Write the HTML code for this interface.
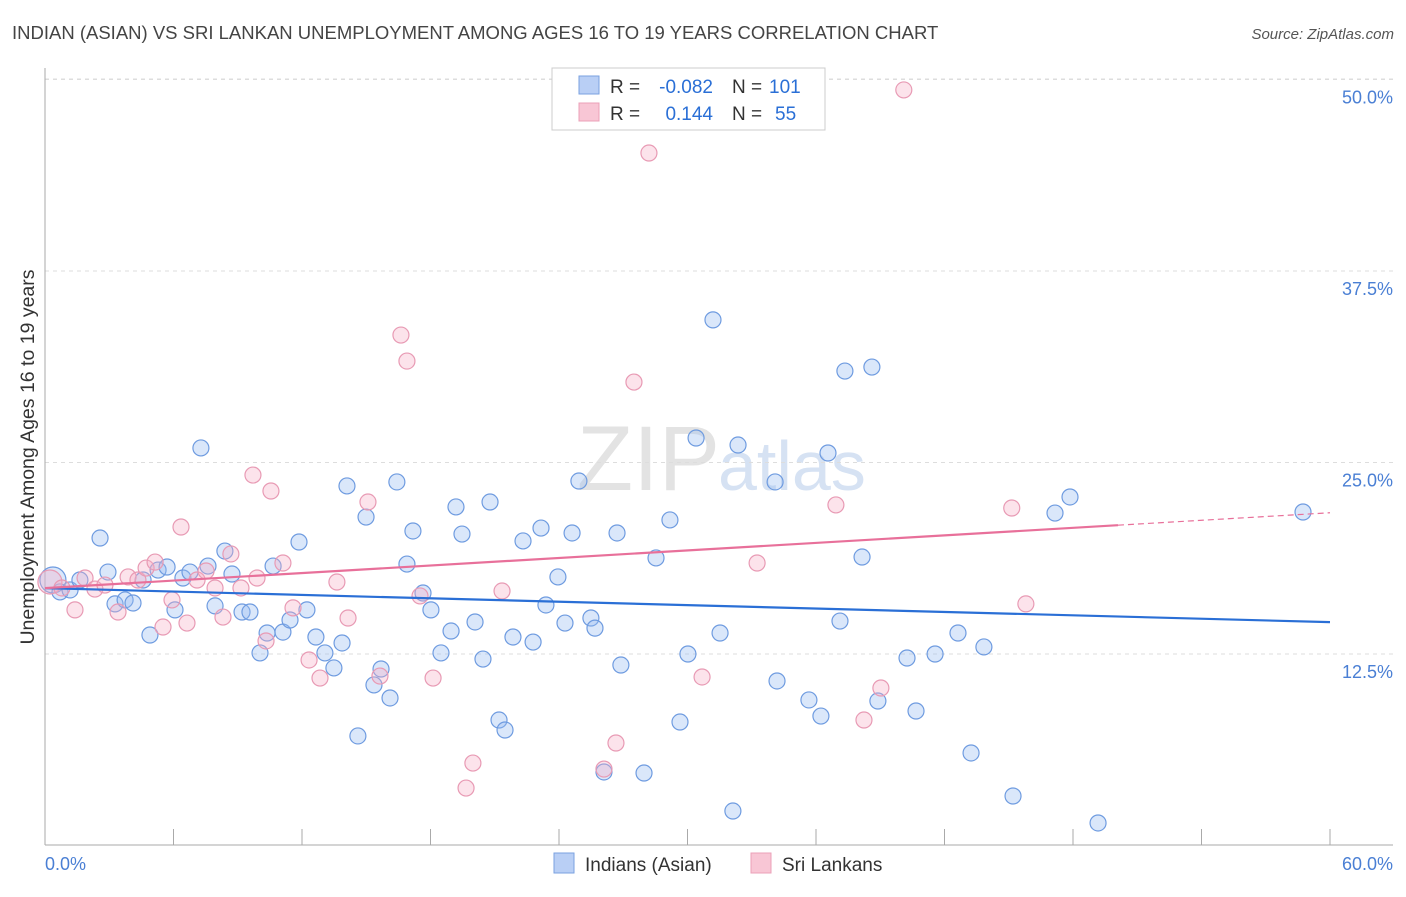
<!DOCTYPE html>
<html><head><meta charset="utf-8"><style>
body{margin:0;background:#fff;font-family:"Liberation Sans",sans-serif;}
svg text{font-family:"Liberation Sans",sans-serif;}
</style></head><body>
<svg id="chart" width="1406" height="892" xmlns="http://www.w3.org/2000/svg">
<text x="12" y="39" font-size="18.5" fill="#444">INDIAN (ASIAN) VS SRI LANKAN UNEMPLOYMENT AMONG AGES 16 TO 19 YEARS CORRELATION CHART</text>
<text x="1394" y="39" font-size="15" fill="#555" text-anchor="end" font-style="italic">Source: ZipAtlas.com</text>
<text x="720" y="490" font-size="92" fill="#d8d8d8" text-anchor="end" font-family="Liberation Serif" opacity="0.7">ZIP</text>
<text x="718" y="490" font-size="70" fill="#c5d6ee" opacity="0.7">atlas</text>
<g id="grid"></g><g id="axes"></g><g id="pts"></g><g id="lines"></g>
<text transform="translate(34,457) rotate(-90)" font-size="19.5" fill="#333" text-anchor="middle">Unemployment Among Ages 16 to 19 years</text>
<g>
<rect x="552" y="68" width="273" height="62" fill="#fff" stroke="#ccc"/>
<rect x="579" y="76" width="20" height="18" fill="#b9cff5" stroke="#7aa2e0"/>
<rect x="579" y="103" width="20" height="18" fill="#f8c6d5" stroke="#eba0b8"/>
<text x="610" y="93" font-size="19" fill="#333">R =</text>
<text x="713" y="93" font-size="19" fill="#2a6fd6" text-anchor="end">-0.082</text>
<text x="732" y="93" font-size="19" fill="#333">N =</text>
<text x="769" y="93" font-size="19" fill="#2a6fd6">101</text>
<text x="610" y="120" font-size="19" fill="#333">R =</text>
<text x="713" y="120" font-size="19" fill="#2a6fd6" text-anchor="end">0.144</text>
<text x="732" y="120" font-size="19" fill="#333">N =</text>
<text x="775" y="120" font-size="19" fill="#2a6fd6">55</text>
</g>
<g>
<rect x="554" y="853" width="20" height="20" fill="#b9cff5" stroke="#7aa2e0"/>
<text x="585" y="871" font-size="19" fill="#333">Indians (Asian)</text>
<rect x="751" y="853" width="20" height="20" fill="#f8c6d5" stroke="#eba0b8"/>
<text x="782" y="871" font-size="19" fill="#333">Sri Lankans</text>
</g>
</svg>
<script>
const yTicks=[12.5,25,37.5,50];
const yTickLabels=["12.5%","25.0%","37.5%","50.0%"];
const xTickVals=[0,6,12,18,24,30,36,42,48,54,60];
const blueX=[0.37,0.70,1.17,1.63,2.57,2.94,3.27,3.74,4.11,4.58,4.90,5.28,5.70,6.07,6.44,6.77,7.28,7.61,7.94,8.40,8.73,9.20,9.57,10.04,10.37,10.65,11.11,11.44,11.86,12.23,12.65,13.07,13.49,13.87,14.10,14.61,14.99,15.36,15.69,16.11,16.43,16.90,17.18,17.65,18.02,18.49,18.96,19.19,19.47,20.08,20.45,20.78,21.20,21.48,21.85,22.32,22.79,23.16,23.39,23.95,24.28,24.61,24.93,25.49,25.68,26.10,26.71,26.89,27.97,28.53,29.18,29.65,30.02,30.40,31.19,31.52,32.12,32.36,34.09,34.18,35.67,36.23,36.56,37.12,37.35,38.15,38.61,38.89,40.25,40.67,41.56,42.63,43.24,43.84,45.20,47.16,47.86,49.17,58.74];
const blueY=[17.33,16.55,16.68,17.33,20.07,17.85,15.77,16.03,15.83,17.33,13.74,17.98,18.18,15.38,17.46,17.85,25.95,18.24,15.64,19.22,17.72,15.24,15.24,12.57,13.87,18.24,13.93,14.72,19.81,15.38,13.61,12.57,11.59,13.22,23.47,7.15,21.44,10.48,11.52,9.63,23.73,18.37,20.53,16.48,15.38,12.57,14.00,22.10,20.33,14.59,12.17,22.42,8.19,7.54,13.61,19.88,13.28,20.72,15.70,17.53,14.52,20.40,23.79,14.85,14.19,4.80,20.40,11.78,4.73,18.77,21.25,8.06,12.50,26.60,34.31,13.87,2.25,26.14,23.73,10.74,9.50,8.45,25.62,14.65,30.97,18.83,31.23,9.43,12.24,8.78,12.50,13.87,6.04,12.96,3.23,21.70,22.75,1.47,21.77];
const pinkX=[0.23,0.79,1.40,1.87,2.33,2.80,3.41,3.88,4.34,4.72,5.14,5.51,5.93,6.35,6.63,7.10,7.52,7.94,8.31,8.68,9.15,9.71,9.90,10.32,10.55,11.11,11.58,12.33,12.84,13.63,14.15,15.08,15.64,16.62,16.90,17.51,18.12,19.66,19.98,21.34,26.10,26.66,27.50,28.20,30.68,33.25,36.93,38.24,39.03,40.10,45.14,45.80];
const pinkY=[17.20,16.81,15.38,17.46,16.74,17.00,15.24,17.53,17.33,18.11,18.50,14.26,16.03,20.79,14.52,17.33,17.92,16.81,14.91,19.03,16.81,24.18,17.46,13.35,23.14,18.44,15.51,12.11,10.93,17.20,14.85,22.42,11.06,33.32,31.62,16.29,10.93,3.75,5.38,16.61,4.99,6.69,30.25,45.20,11.00,18.44,22.23,8.19,10.28,49.32,22.03,15.77];
const blueTrend=[16.8,-0.037];
const pinkTrend=[16.8,0.082];
const pinkSolidEnd=50.1;

const NS="http://www.w3.org/2000/svg";
const X=v=>45+v*(1285/60);
const Y=v=>845.5-v*15.32;
function mk(tag,attrs,parent){const e=document.createElementNS(NS,tag);for(const k in attrs)e.setAttribute(k,attrs[k]);parent.appendChild(e);return e;}
const gridG=document.getElementById('grid'),axesG=document.getElementById('axes'),ptsG=document.getElementById('pts'),linesG=document.getElementById('lines');
yTicks.forEach((t,i)=>{
 const l=mk('line',{x1:45,x2:1393,y1:Y(t),y2:Y(t),stroke:'#ddd','stroke-dasharray':'4,4'},gridG);
 
 
 const tx=mk('text',{x:1393,y:Y(t)+24,'font-size':18,fill:'#4a7fd4','text-anchor':'end'},gridG);
 tx.textContent=yTickLabels[i];
 
 
});
const topGrid=mk('line',{x1:45,x2:1393,y1:79,y2:79,stroke:'#ddd','stroke-dasharray':'4,4'},gridG);


const xa=mk('line',{x1:45,x2:1393,y1:845,y2:845,stroke:'#aaa'},axesG);


const ya=mk('line',{x1:45,x2:45,y1:68,y2:845,stroke:'#aaa'},axesG);


xTickVals.forEach(v=>{
 const t=mk('line',{x1:X(v),x2:X(v),y1:829,y2:845,stroke:'#aaa'},axesG);
 
 
});
const xl0=mk('text',{x:45,y:870,'font-size':18,fill:'#4a7fd4'},axesG);xl0.textContent='0.0%';


const xl1=mk('text',{x:1393,y:870,'font-size':18,fill:'#4a7fd4','text-anchor':'end'},axesG);xl1.textContent='60.0%';


blueX.forEach((x,i)=>{
 const c=mk('circle',{cx:X(x),cy:Y(blueY[i]),r:i==0?13:8,fill:'rgba(150,185,240,0.35)',stroke:'#6e9be0','stroke-width':1.2},ptsG);
 
 
});
pinkX.forEach((x,i)=>{
 const c=mk('circle',{cx:X(x),cy:Y(pinkY[i]),r:i==0?12:8,fill:'rgba(245,175,198,0.35)',stroke:'#e89ab4','stroke-width':1.2},ptsG);
 
 
});
const bl=mk('line',{x1:X(0),y1:Y(blueTrend[0]),x2:X(60),y2:Y(blueTrend[0]+blueTrend[1]*60),stroke:'#2a6fd6','stroke-width':2.2},linesG);


const pl=mk('line',{x1:X(0),y1:Y(pinkTrend[0]),x2:X(pinkSolidEnd),y2:Y(pinkTrend[0]+pinkTrend[1]*pinkSolidEnd),stroke:'#e8709a','stroke-width':2.2},linesG);


const pd=mk('line',{x1:X(pinkSolidEnd),y1:Y(pinkTrend[0]+pinkTrend[1]*pinkSolidEnd),x2:X(60),y2:Y(pinkTrend[0]+pinkTrend[1]*60),stroke:'#e8709a','stroke-width':1.2,'stroke-dasharray':'6,4'},linesG);


</script>
</body></html>
